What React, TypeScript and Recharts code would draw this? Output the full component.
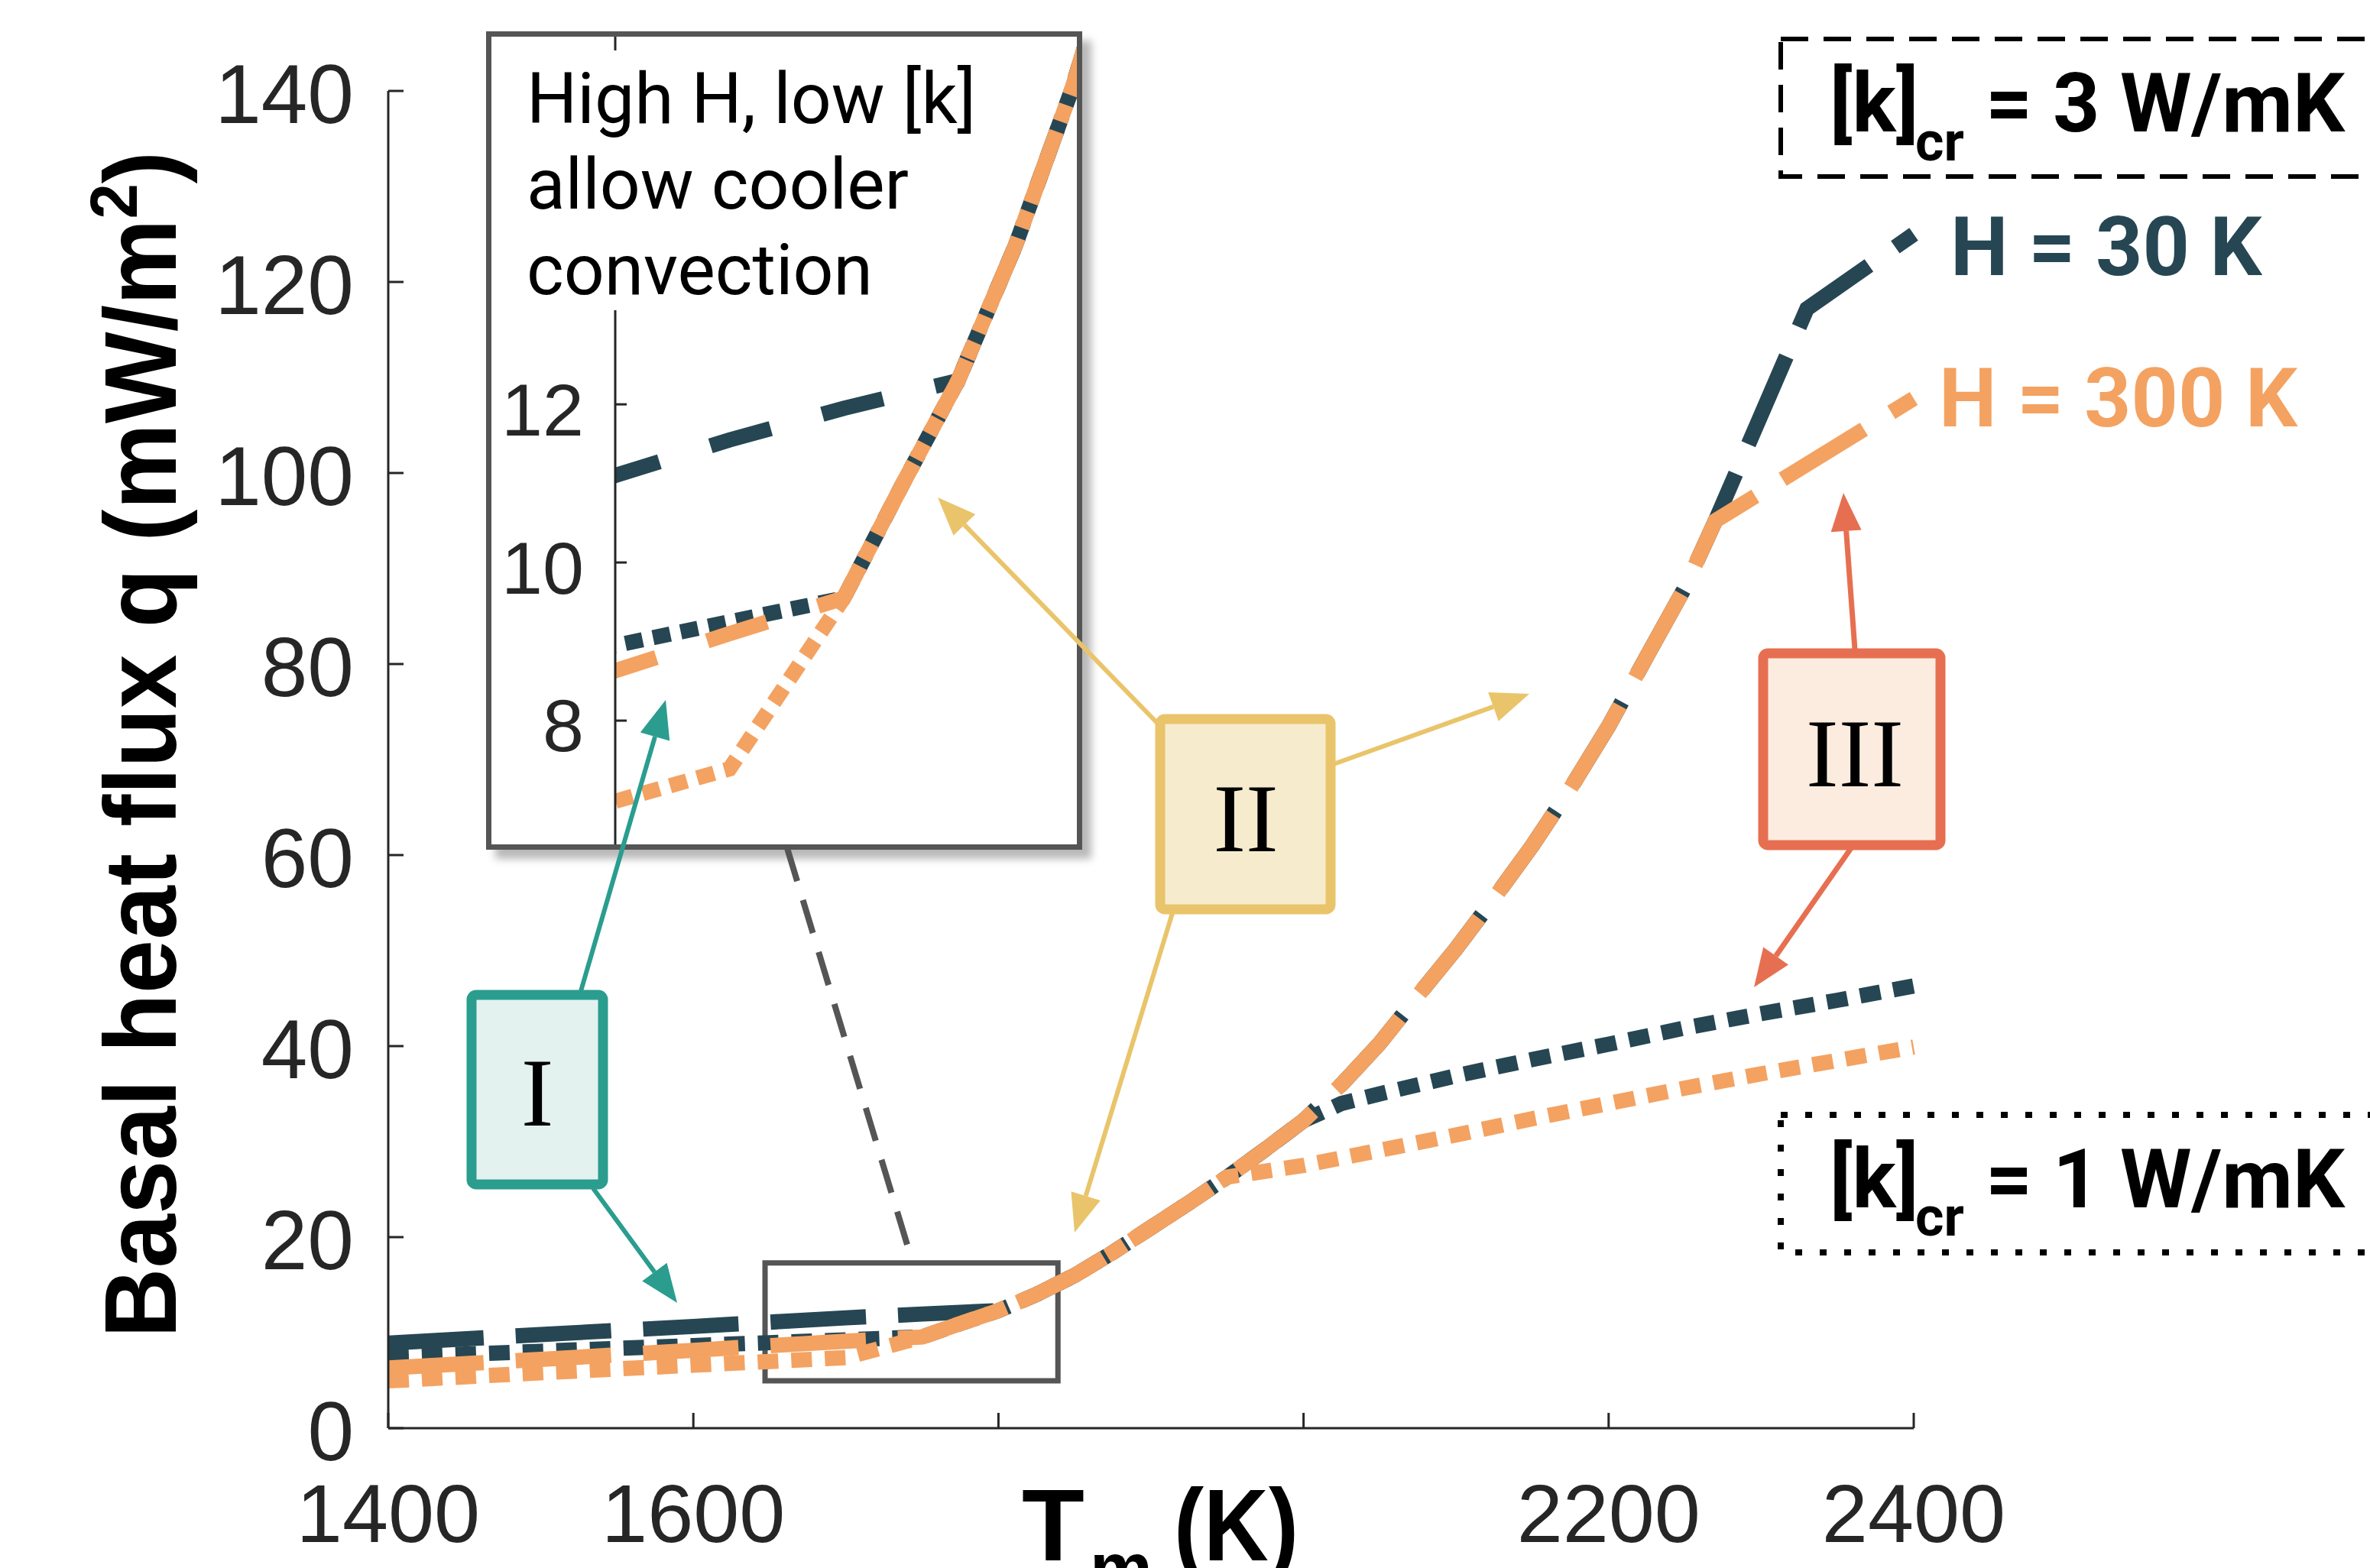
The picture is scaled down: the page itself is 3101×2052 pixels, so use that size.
import React from "react";
import { LineChart, Line, XAxis, YAxis, ReferenceArea } from "recharts";

const DARK = "#264653";
const ORANGE = "#f4a261";
const TEAL = "#2a9d8f";
const YELLOW = "#e9c46a";
const RED = "#e76f51";
const AXIS = "#262626";

const lowTemps = [1400, 1500, 1600, 1650, 1700, 1750];
const h30k3Low = [8.9, 9.8, 10.65, 11.1, 11.55, 11.95];
const h300k3Low = [6.3, 7.2, 8.15, 8.63, 9.1, 9.55];
const h30k1Low = [7.45, 8.05, 8.65, 8.95, 9.25, 9.55];
const h300k1Low = [4.95, 5.8, 6.6, 6.98, 7.39, 9.55];

// the common rising branch all four curves share for a while
const riseTemps = [1750, 1775, 1800, 1825, 1850, 1875, 1900, 1925, 1950, 1975, 2000, 2025, 2050, 2075, 2100, 2125, 2150, 2175, 2200, 2225, 2250, 2270];
const riseFlux = [9.55, 10.95, 12.3, 14.0, 16.0, 18.4, 21.0, 23.6, 26.3, 29.2, 32.2, 36.0, 40.3, 45.3, 50.2, 55.5, 61.0, 67.0, 73.5, 80.8, 88.0, 95.0];

// where each curve leaves the common branch
const h30k3TailT = [2330, 2400];
const h30k3TailQ = [117.2, 125.0];
const h300k3TailT = [2400];
const h300k3TailQ = [107.8];
const h30k1TailT = [2025, 2050, 2100, 2150, 2200, 2250, 2300, 2350, 2400];
const h30k1TailQ = [34.0, 35.0, 36.9, 38.6, 40.2, 41.9, 43.4, 44.8, 46.3];
const h300k1TailT = [2000, 2050, 2100, 2150, 2200, 2250, 2300, 2350, 2400];
const h300k1TailQ = [27.5, 29.1, 30.7, 32.4, 34.0, 35.6, 37.1, 38.5, 39.9];

const xTicks = [1400, 1600, 1800, 2000, 2200, 2400];
const yTicks = [0, 20, 40, 60, 80, 100, 120, 140];
const insetTicks = [8, 10, 12];

type Pt = { T: number; q: number };
const zip = (ts: number[], qs: number[]): Pt[] => ts.map((T, i) => ({ T, q: qs[i] }));
const rise = zip(riseTemps, riseFlux);

const build = (lowQ: number[], riseFrom: number, riseTo: number, tT: number[], tQ: number[]) => [
  ...zip(lowTemps, lowQ),
  ...rise.filter((p) => p.T >= riseFrom && p.T <= riseTo),
  ...zip(tT, tQ),
];

const series = [
  { key: "h30k3", color: DARK, kind: "dash", data: build(h30k3Low, 1800, 2270, h30k3TailT, h30k3TailQ) },
  { key: "h30k1", color: DARK, kind: "dot", data: build(h30k1Low, 1775, 2000, h30k1TailT, h30k1TailQ) },
  { key: "h300k1", color: ORANGE, kind: "dot", data: build(h300k1Low, 1775, 1950, h300k1TailT, h300k1TailQ) },
  { key: "h300k3", color: ORANGE, kind: "dash", data: build(h300k3Low, 1775, 2270, h300k3TailT, h300k3TailQ) },
];

const tickFont = { fontFamily: "Liberation Sans, Arial, Helvetica", fill: AXIS };

function Arrow({ x1, y1, x2, y2, color, w = 6, head = 50, hw = 40 }: any) {
  const a = Math.atan2(y2 - y1, x2 - x1);
  const bx = x2 - head * Math.cos(a);
  const by = y2 - head * Math.sin(a);
  const px = (-Math.sin(a) * hw) / 2;
  const py = (Math.cos(a) * hw) / 2;
  return (
    <g>
      <line x1={x1} y1={y1} x2={bx} y2={by} stroke={color} strokeWidth={w} />
      <polygon points={`${x2},${y2} ${bx + px},${by + py} ${bx - px},${by - py}`} fill={color} />
    </g>
  );
}

function NumBox({ x, y, w, h, stroke, fill, label, tx, ty }: any) {
  return (
    <g>
      <rect x={x} y={y} width={w} height={h} rx={6} fill={fill} stroke={stroke} strokeWidth={13} />
      <text x={tx} y={ty} textAnchor="middle" fontFamily="Liberation Serif, Times New Roman, serif" fontSize={128} fill="#000">
        {label}
      </text>
    </g>
  );
}

function Overlay() {
  const kFont = { fontFamily: "Roboto, Arial", fontWeight: 700 };
  return (
    <svg width={3101} height={2052} style={{ position: "absolute", left: 0, top: 0, pointerEvents: "none" }}>
      {/* axis titles */}
      <text
        transform="translate(230, 974.5) rotate(-90)"
        textAnchor="middle"
        fontFamily="Liberation Sans, Arial"
        fontWeight={700}
        fontSize={134}
        textLength={1553}
        lengthAdjust="spacingAndGlyphs"
        fill="#000"
      >
        Basal heat flux q (mW/m<tspan dy={-51} fontSize={88}>2</tspan><tspan dy={51}>)</tspan>
      </text>
      <g fontFamily="Liberation Sans, Arial" fontWeight={700} fill="#000">
        <text x={1337} y={2042} fontSize={134}>T</text>
        <text x={1426} y={2084} fontSize={92}>m</text>
        <text x={1536} y={2042} fontSize={134} textLength={163} lengthAdjust="spacingAndGlyphs">(K)</text>
      </g>

      {/* inset caption */}
      <rect x={680} y={66} width={600} height={340} fill="#fff" />
      <g fontFamily="Roboto, Arial" fontSize={93} fill="#000">
        <text x={689} y={161}>High H, low [k]</text>
        <text x={689} y={273}>allow cooler</text>
        <text x={689} y={385}>convection</text>
      </g>

      {/* connector from inset to zoom rectangle */}
      <line x1={1030} y1={1110} x2={1194} y2={1652} stroke="#555" strokeWidth={8} strokeDasharray="45 26" />

      {/* legend boxes */}
      <rect x={2330} y={51} width={820} height={180} fill="#fff" stroke="#000" strokeWidth={6} strokeDasharray="36 20" />
      <g {...kFont} fill="#000">
        <text x={2394} y={172} fontSize={107}>[k]</text>
        <text x={2506} y={210} fontSize={72}>cr</text>
        <text x={2598} y={172} fontSize={107}>= 3 W/mK</text>
      </g>
      <rect x={2330} y={1459} width={820} height={180} fill="#fff" stroke="#000" strokeWidth={8} strokeDasharray="9 23" />
      <g {...kFont} fill="#000">
        <text x={2394} y={1580} fontSize={107}>[k]</text>
        <text x={2506} y={1617} fontSize={72}>cr</text>
        <text x={2598} y={1580} fontSize={107}>= 1 W/mK</text>
      </g>
      <text x={2552} y={360} {...kFont} fontSize={107} fill={DARK}>H = 30 K</text>
      <text x={2537} y={558} {...kFont} fontSize={107} fill={ORANGE}>H = 300 K</text>

      {/* regime boxes and arrows */}
      <Arrow x1={760} y1={1297} x2={871} y2={916} color={TEAL} />
      <Arrow x1={776} y1={1555} x2={886} y2={1705} color={TEAL} />
      <NumBox x={617} y={1302} w={172} h={248} stroke={TEAL} fill="#e4f2ef" label="I" tx={703} ty={1473} />

      <Arrow x1={1515} y1={947} x2={1227} y2={651} color={YELLOW} />
      <Arrow x1={1742} y1={1001} x2={2001} y2={908} color={YELLOW} />
      <Arrow x1={1534} y1={1195} x2={1406} y2={1613} color={YELLOW} />
      <NumBox x={1518} y={941} w={223} h={249} stroke={YELLOW} fill="#f6ebcd" label="II" tx={1630} ty={1114} />

      <Arrow x1={2427} y1={850} x2={2412} y2={645} color={RED} w={7} />
      <Arrow x1={2422} y1={1110} x2={2295} y2={1292} color={RED} w={7} />
      <NumBox x={2307} y={855} w={232} h={251} stroke={RED} fill="#fcece0" label="III" tx={2427} ty={1029} />
    </svg>
  );
}

function Inset() {
  return (
    <div
      style={{
        position: "absolute",
        left: 636,
        top: 41,
        width: 780,
        height: 1071,
        boxSizing: "border-box",
        border: "7px solid #555",
        background: "#fff",
        boxShadow: "12px 12px 10px rgba(0,0,0,0.28)",
      }}
    >
      <LineChart width={766} height={1057} margin={{ top: 0, right: 0, left: 62, bottom: 0 }}>
        <XAxis type="number" dataKey="T" domain={[1650, 1852]} allowDataOverflow hide height={0} />
        <YAxis
          type="number"
          domain={[6.435, 16.65]}
          allowDataOverflow
          ticks={insetTicks}
          width={100}
          tickSize={-15}
          tickMargin={56}
          axisLine={{ stroke: AXIS, strokeWidth: 3 }}
          tickLine={{ stroke: AXIS, strokeWidth: 3 }}
          tick={{ ...tickFont, fontSize: 97, dy: 6 }}
        />
        {series.map((s) => (
          <Line
            key={s.key}
            data={s.data}
            dataKey="q"
            type="linear"
            stroke={s.color}
            strokeWidth={20}
            strokeDasharray={s.kind === "dash" ? "82 70" : "23 14"}
            dot={false}
            activeDot={false}
            isAnimationActive={false}
          />
        ))}
      </LineChart>
    </div>
  );
}

export default function App() {
  return (
    <div style={{ position: "absolute", left: 0, top: 0, width: 3101, height: 2052, background: "#fff" }}>
      <LineChart width={3101} height={2052} margin={{ top: 119, right: 597, left: 408, bottom: 83 }}>
        <XAxis
          type="number"
          dataKey="T"
          domain={[1400, 2400]}
          ticks={xTicks}
          height={100}
          tickSize={-20}
          tickMargin={92}
          tickFormatter={(v: number) => (v === 1800 || v === 2000 ? "" : String(v))}
          axisLine={{ stroke: AXIS, strokeWidth: 3 }}
          tickLine={{ stroke: AXIS, strokeWidth: 3 }}
          tick={{ ...tickFont, fontSize: 108 }}
        />
        <YAxis
          type="number"
          domain={[0, 140]}
          ticks={yTicks}
          width={100}
          tickSize={-20}
          tickMargin={65}
          axisLine={{ stroke: AXIS, strokeWidth: 3 }}
          tickLine={{ stroke: AXIS, strokeWidth: 3 }}
          tick={{ ...tickFont, fontSize: 109, dy: 3 }}
        />
        {series.map((s) => (
          <Line
            key={s.key}
            data={s.data}
            dataKey="q"
            type="linear"
            stroke={s.color}
            strokeWidth={20}
            strokeDasharray={s.kind === "dash" ? "125 42" : "27 17"}
            dot={false}
            activeDot={false}
            isAnimationActive={false}
          />
        ))}
        <ReferenceArea x1={1647} x2={1839} y1={4.96} y2={17.3} fill="none" fillOpacity={0} stroke="#555" strokeWidth={7} ifOverflow="visible" />
      </LineChart>
      <Inset />
      <Overlay />
    </div>
  );
}
